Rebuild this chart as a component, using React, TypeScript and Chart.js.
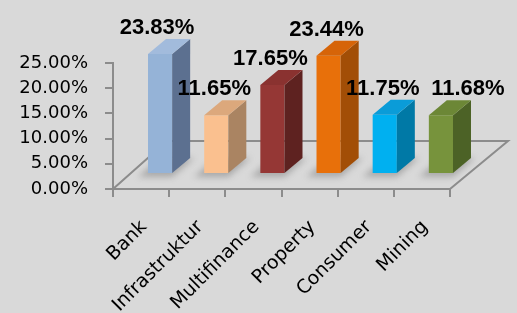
import React, { useEffect, useRef } from "react";
import { Chart, registerables } from "chart.js";

Chart.register(...registerables);

const categories = ["Bank", "Infrastruktur", "Multifinance", "Property", "Consumer", "Mining"];
const values = [23.83, 11.65, 17.65, 23.44, 11.75, 11.68];
const frontColors = ["#95b3d7", "#fac08f", "#953735", "#e8700a", "#00b0f0", "#77933c"];
const sideColors = ["#5c7090", "#aa8462", "#5e2220", "#a24e06", "#0079a6", "#4c6226"];
const topColors = ["#a2bbdc", "#dca87c", "#8a3230", "#d66408", "#0a9cd8", "#6c8736"];
const yTicks = [0, 5, 10, 15, 20, 25];

const SHIFT_X = 19;
const SHIFT_Y = -15;
const DEPTH_X = 18;
const DEPTH_Y = -15;
const LABEL_DX = [-3, -2, -2, -2, -2, 27];

const floorPlugin = {
  id: "floor3d",
  beforeDatasetsDraw(chart: any) {
    const { ctx, chartArea } = chart;
    const { left, right, bottom } = chartArea;
    ctx.save();
    ctx.strokeStyle = "#8c8c8c";
    ctx.lineWidth = 2;
    ctx.beginPath();
    ctx.moveTo(left, bottom);
    ctx.lineTo(left + 54, bottom - 48);
    ctx.lineTo(right + 58, bottom - 48);
    ctx.lineTo(right, bottom);
    ctx.stroke();
    ctx.restore();
    // shadows
    const meta = chart.getDatasetMeta(0);
    ctx.save();
    ctx.filter = "blur(3px)";
    ctx.fillStyle = "rgba(110,110,110,0.45)";
    meta.data.forEach((bar: any) => {
      const w = bar.width;
      const x0 = bar.x - w / 2 + SHIFT_X;
      const b = bar.base + SHIFT_Y;
      ctx.beginPath();
      ctx.moveTo(x0 - 10, b + 4);
      ctx.lineTo(x0 + w, b + 4);
      ctx.lineTo(x0 + w + DEPTH_X + 4, b + DEPTH_Y);
      ctx.lineTo(x0 + DEPTH_X - 6, b + DEPTH_Y);
      ctx.closePath();
      ctx.fill();
    });
    ctx.restore();
    ctx.save();
    ctx.translate(SHIFT_X, SHIFT_Y);
  },
  afterDatasetsDraw(chart: any) {
    const { ctx } = chart;
    const meta = chart.getDatasetMeta(0);
    meta.data.forEach((bar: any, i: number) => {
      const w = bar.width;
      const x0 = bar.x - w / 2;
      const x1 = bar.x + w / 2;
      const top = bar.y;
      const base = bar.base;
      // side
      ctx.fillStyle = sideColors[i];
      ctx.beginPath();
      ctx.moveTo(x1, top);
      ctx.lineTo(x1 + DEPTH_X, top + DEPTH_Y);
      ctx.lineTo(x1 + DEPTH_X, base + DEPTH_Y);
      ctx.lineTo(x1, base);
      ctx.closePath();
      ctx.fill();
      // top
      ctx.fillStyle = topColors[i];
      ctx.beginPath();
      ctx.moveTo(x0, top);
      ctx.lineTo(x0 + DEPTH_X, top + DEPTH_Y);
      ctx.lineTo(x1 + DEPTH_X, top + DEPTH_Y);
      ctx.lineTo(x1, top);
      ctx.closePath();
      ctx.fill();
    });
    ctx.restore();
    // value labels
    ctx.save();
    ctx.font = "bold 22px 'Liberation Sans'";
    ctx.fillStyle = "#000000";
    ctx.textAlign = "center";
    ctx.textBaseline = "alphabetic";
    meta.data.forEach((bar: any, i: number) => {
      ctx.fillText(values[i].toFixed(2) + "%", bar.x + SHIFT_X + LABEL_DX[i], bar.y + SHIFT_Y - 20);
    });
    ctx.restore();
  },
};

export default function App() {
  const ref = useRef<HTMLCanvasElement | null>(null);
  useEffect(() => {
    if (!ref.current) return;
    const chart = new Chart(ref.current, {
      type: "bar",
      data: {
        labels: categories,
        datasets: [
          {
            data: values,
            backgroundColor: frontColors,
            borderWidth: 0,
            barPercentage: 0.43,
            categoryPercentage: 1,
          },
        ],
      },
      options: {
        responsive: false,
        animation: false,
        layout: { padding: { top: 63, right: 67, left: 0, bottom: 0 } },
        plugins: { legend: { display: false }, tooltip: { enabled: false } },
        scales: {
          x: {
            grid: { display: true, drawOnChartArea: false, tickLength: 8, color: "#8c8c8c", lineWidth: 2 },
            border: { display: true, color: "#8c8c8c", width: 2 },
            ticks: {
              autoSkip: false,
              minRotation: 45,
              maxRotation: 45,
              padding: 19,
              labelOffset: 3,
              color: "#000000",
              font: { family: "'DejaVu Sans'", size: 19 },
            },
            afterFit(scale: any) {
              scale.height = 124;
            },
          },
          y: {
            min: 0,
            max: 25,
            afterBuildTicks(scale: any) {
              scale.ticks = yTicks.map((v) => ({ value: v }));
            },
            grid: { display: true, drawOnChartArea: false, tickLength: 8, color: "#8c8c8c", lineWidth: 2 },
            border: { display: true, color: "#8c8c8c", width: 2 },
            ticks: {
              padding: 17,
              color: "#000000",
              font: { family: "'DejaVu Sans'", size: 18 },
              callback: (v: any) => Number(v).toFixed(2) + "%",
            },
            afterFit(scale: any) {
              scale.width = 113;
            },
          },
        },
      },
      plugins: [floorPlugin],
    });
    return () => chart.destroy();
  }, []);
  return (
    <div style={{ position: "fixed", left: 0, top: 0, width: 517, height: 313, background: "#d9d9d9" }}>
      <canvas ref={ref} width={517} height={313} />
    </div>
  );
}
